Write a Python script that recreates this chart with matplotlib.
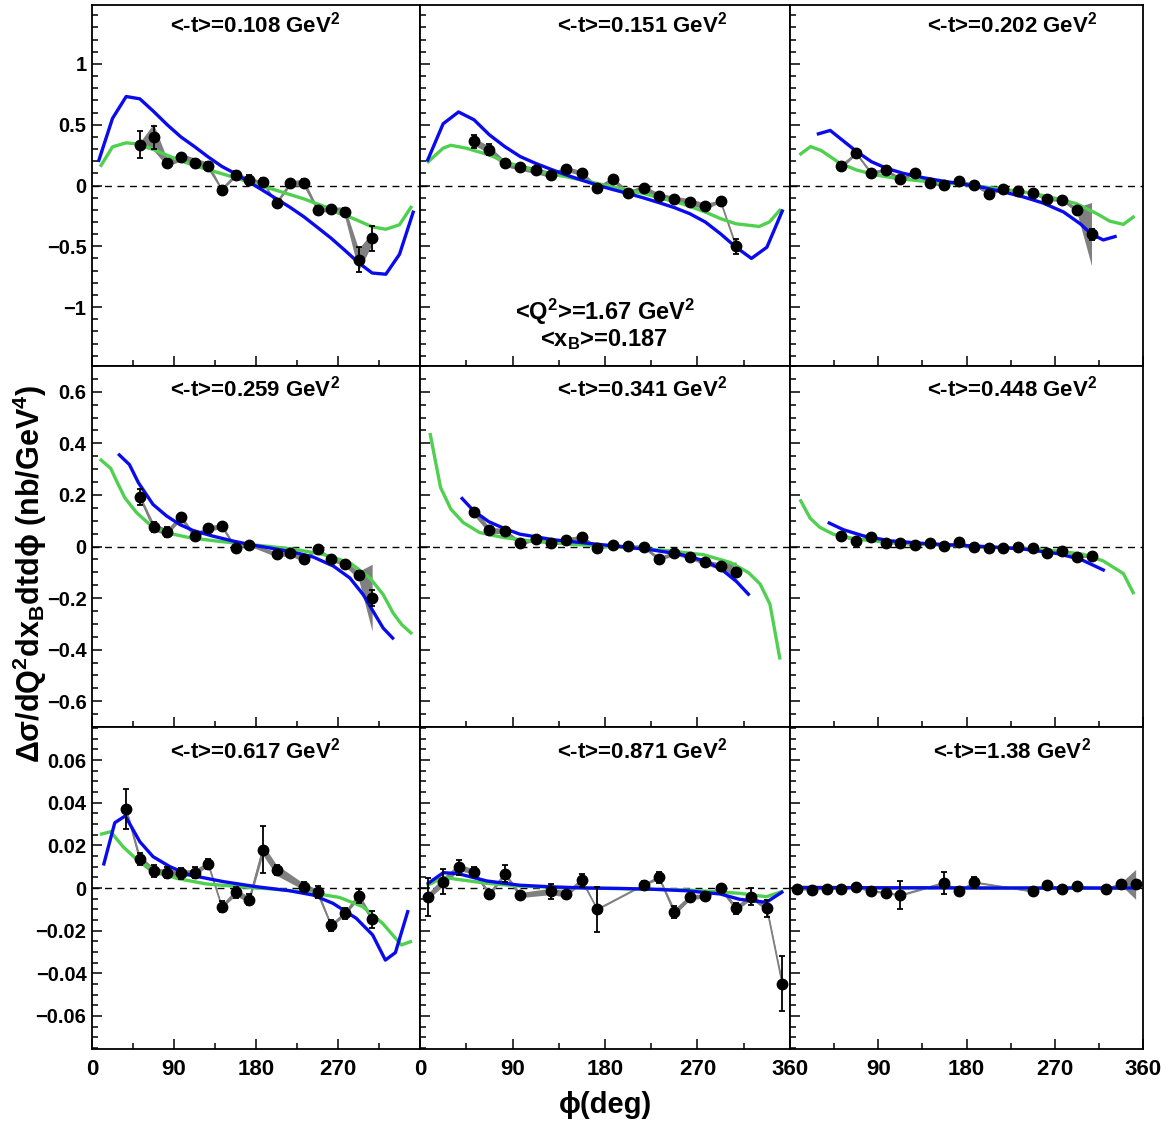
import matplotlib
matplotlib.use("Agg")
import matplotlib.pyplot as plt
from matplotlib.ticker import FixedLocator, MultipleLocator

plt.rcParams['font.family'] = ['Liberation Sans', 'DejaVu Sans']
plt.rcParams['font.weight'] = 'bold'
plt.rcParams['mathtext.default'] = 'regular'

# panel labels
t_labels = ['0.108', '0.151', '0.202', '0.259', '0.341', '0.448', '0.617', '0.871', '1.38']

# ---- data points: phi, value, stat error, systematic band half-width ----
phi_p1 = [52.5, 67.5, 82.5, 97.5, 112.5, 127.5, 142.5, 157.5, 172.5, 187.5, 202.5, 217.5, 232.5, 247.5, 262.5, 277.5, 292.5, 307.5]
y_p1 = [0.337, 0.398, 0.188, 0.232, 0.188, 0.16, -0.033, 0.088, 0.047, 0.028, -0.146, 0.019, 0.022, -0.199, -0.196, -0.218, -0.61, -0.436]
e_p1 = [0.11, 0.095, 0.03, 0.03, 0.03, 0.03, 0.03, 0.03, 0.04, 0.035, 0.02, 0.02, 0.03, 0.03, 0.03, 0.03, 0.1, 0.1]
s_p1 = [0.02, 0.11, 0.03, 0.03, 0.04, 0.03, 0.01, 0.02, 0.02, 0.01, 0.01, 0.02, 0.03, 0.02, 0.02, 0.04, 0.09, 0.05]

phi_p2 = [52.5, 67.5, 82.5, 97.5, 112.5, 127.5, 142.5, 157.5, 172.5, 187.5, 202.5, 217.5, 232.5, 247.5, 262.5, 277.5, 292.5, 307.5]
y_p2 = [0.362, 0.293, 0.182, 0.149, 0.124, 0.088, 0.135, 0.102, -0.019, 0.05, -0.061, -0.019, -0.088, -0.113, -0.133, -0.171, -0.13, -0.5]
e_p2 = [0.055, 0.045, 0.015, 0.015, 0.015, 0.015, 0.015, 0.015, 0.015, 0.015, 0.015, 0.015, 0.015, 0.015, 0.015, 0.015, 0.03, 0.06]
s_p2 = [0.03, 0.03, 0.025, 0.025, 0.025, 0.025, 0.02, 0.02, 0.015, 0.02, 0.02, 0.02, 0.025, 0.025, 0.025, 0.025, 0.01, 0.02]

phi_p3 = [52.5, 67.5, 82.5, 97.5, 112.5, 127.5, 142.5, 157.5, 172.5, 187.5, 202.5, 217.5, 232.5, 247.5, 262.5, 277.5, 292.5, 307.5]
y_p3 = [0.16, 0.265, 0.105, 0.127, 0.052, 0.1, 0.017, 0.003, 0.036, 0.008, -0.066, -0.03, -0.047, -0.061, -0.11, -0.116, -0.2, -0.4]
e_p3 = [0.035, 0.015, 0.012, 0.012, 0.012, 0.012, 0.012, 0.012, 0.012, 0.012, 0.012, 0.012, 0.012, 0.012, 0.012, 0.012, 0.015, 0.045]
s_p3 = [0.02, 0.01, 0.015, 0.015, 0.015, 0.01, 0.01, 0.01, 0.01, 0.01, 0.01, 0.01, 0.01, 0.01, 0.015, 0.015, 0.02, 0.26]

phi_p4 = [52.5, 67.5, 82.5, 97.5, 112.5, 127.5, 142.5, 157.5, 172.5, 202.5, 217.5, 232.5, 247.5, 262.5, 277.5, 292.5, 307.5]
y_p4 = [0.192, 0.076, 0.056, 0.114, 0.041, 0.07, 0.079, -0.004, 0.006, -0.03, -0.026, -0.049, -0.008, -0.049, -0.066, -0.111, -0.199]
e_p4 = [0.03, 0.02, 0.02, 0.012, 0.01, 0.01, 0.012, 0.01, 0.01, 0.01, 0.01, 0.01, 0.01, 0.01, 0.01, 0.015, 0.03]
s_p4 = [0.01, 0.015, 0.012, 0.01, 0.01, 0.01, 0.01, 0.004, 0.004, 0.01, 0.01, 0.01, 0.004, 0.008, 0.01, 0.015, 0.13]

phi_p5 = [52.5, 67.5, 82.5, 97.5, 112.5, 127.5, 142.5, 157.5, 172.5, 187.5, 202.5, 217.5, 232.5, 247.5, 262.5, 277.5, 292.5, 307.5]
y_p5 = [0.135, 0.063, 0.06, 0.013, 0.03, 0.014, 0.026, 0.036, -0.005, 0.005, 0.001, -0.001, -0.048, -0.026, -0.04, -0.062, -0.076, -0.1]
e_p5 = [0.015, 0.01, 0.01, 0.008, 0.008, 0.008, 0.008, 0.008, 0.008, 0.008, 0.008, 0.008, 0.008, 0.008, 0.008, 0.008, 0.01, 0.015]
s_p5 = [0.015, 0.012, 0.01, 0.008, 0.008, 0.008, 0.008, 0.008, 0.006, 0.006, 0.006, 0.006, 0.008, 0.008, 0.008, 0.01, 0.012, 0.04]

phi_p6 = [52.5, 67.5, 82.5, 97.5, 112.5, 127.5, 142.5, 157.5, 172.5, 187.5, 202.5, 217.5, 232.5, 247.5, 262.5, 277.5, 292.5, 307.5]
y_p6 = [0.039, 0.023, 0.038, 0.014, 0.012, 0.006, 0.012, 0.001, 0.016, -0.001, -0.005, -0.004, -0.001, -0.006, -0.026, -0.016, -0.039, -0.038]
e_p6 = [0.006, 0.005, 0.005, 0.004, 0.004, 0.004, 0.004, 0.004, 0.004, 0.004, 0.004, 0.004, 0.004, 0.004, 0.004, 0.004, 0.005, 0.006]
s_p6 = [0.003, 0.003, 0.003, 0.003, 0.003, 0.003, 0.003, 0.003, 0.003, 0.003, 0.003, 0.003, 0.003, 0.003, 0.003, 0.003, 0.003, 0.004]

phi_p7 = [37.5, 52.5, 67.5, 82.5, 97.5, 112.5, 127.5, 142.5, 157.5, 172.5, 187.5, 202.5, 232.5, 247.5, 262.5, 277.5, 292.5, 307.5]
y_p7 = [0.037, 0.0134, 0.008, 0.0072, 0.0069, 0.0072, 0.0113, -0.0087, -0.002, -0.0055, 0.018, 0.0084, 0.0006, -0.002, -0.0175, -0.0119, -0.0037, -0.0147]
e_p7 = [0.0095, 0.0028, 0.0028, 0.0025, 0.0025, 0.0025, 0.0025, 0.0025, 0.0025, 0.0025, 0.011, 0.0025, 0.0022, 0.0028, 0.0025, 0.0025, 0.0033, 0.004]
s_p7 = [0.001, 0.002, 0.0015, 0.0015, 0.0015, 0.0015, 0.001, 0.0008, 0.0015, 0.0015, 0.0025, 0.0025, 0.0015, 0.0015, 0.0008, 0.001, 0.0015, 0.0015]

phi_p8 = [7.5, 22.5, 37.5, 52.5, 67.5, 82.5, 97.5, 127.5, 142.5, 157.5, 172.5, 217.5, 232.5, 247.5, 262.5, 277.5, 292.5, 307.5, 322.5, 337.5, 352.5]
y_p8 = [-0.0041, 0.003, 0.0097, 0.0077, -0.0028, 0.0066, -0.0033, -0.0016, -0.0028, 0.0037, -0.01, 0.0014, 0.005, -0.0113, -0.0044, -0.0036, -0.0002, -0.0095, -0.0041, -0.0095, -0.045]
e_p8 = [0.009, 0.006, 0.0035, 0.002, 0.002, 0.004, 0.001, 0.0035, 0.001, 0.003, 0.0105, 0.002, 0.0025, 0.003, 0.001, 0.001, 0.001, 0.0025, 0.004, 0.004, 0.0129]
s_p8 = [0.0015, 0.002, 0.0015, 0.0012, 0.001, 0.001, 0.0012, 0.0015, 0.0015, 0.001, 0.0003, 0.0003, 0.001, 0.0015, 0.0012, 0.001, 0.001, 0.0012, 0.0012, 0.0012, 0.0015]

phi_p9 = [7.5, 22.5, 37.5, 52.5, 67.5, 82.5, 97.5, 112.5, 157.5, 172.5, 187.5, 247.5, 262.5, 277.5, 292.5, 322.5, 337.5, 352.5]
y_p9 = [-0.0005, -0.0008, -0.0003, -0.0005, 0.0003, -0.0014, -0.0022, -0.0034, 0.0025, -0.0016, 0.0027, -0.0016, 0.0013, -0.0003, 0.0008, -0.0005, 0.0019, 0.0017]
e_p9 = [0.0003, 0.0003, 0.0003, 0.0003, 0.0003, 0.0003, 0.0004, 0.0066, 0.0052, 0.0004, 0.0025, 0.0004, 0.0004, 0.0004, 0.0004, 0.0004, 0.0005, 0.0005]
s_p9 = [0.0003, 0.0003, 0.0003, 0.0003, 0.0003, 0.0004, 0.0004, 0.0004, 0.0004, 0.0004, 0.0004, 0.0003, 0.0003, 0.0003, 0.0003, 0.0004, 0.0006, 0.007]

# ---- model curves (blue, green) ----
bphi_p1 = [7.5, 22.5, 37.5, 52.5, 67.5, 82.5, 97.5, 112.5, 127.5, 142.5, 157.5, 172.5, 187.5, 202.5, 217.5, 232.5, 247.5, 262.5, 277.5, 292.5, 307.5, 322.5, 337.5, 352.5]
blue_p1 = [0.207, 0.552, 0.732, 0.713, 0.61, 0.50, 0.40, 0.32, 0.235, 0.157, 0.097, 0.028, -0.04, -0.11, -0.18, -0.257, -0.345, -0.434, -0.533, -0.635, -0.72, -0.73, -0.566, -0.22]
gphi_p1 = [10, 22.5, 37.5, 52.5, 67.5, 82.5, 97.5, 112.5, 127.5, 142.5, 157.5, 172.5, 187.5, 202.5, 217.5, 232.5, 247.5, 262.5, 277.5, 292.5, 307.5, 322.5, 337.5, 350]
green_p1 = [0.166, 0.318, 0.351, 0.34, 0.296, 0.249, 0.202, 0.166, 0.13, 0.097, 0.064, 0.028, -0.006, -0.04, -0.075, -0.11, -0.152, -0.193, -0.243, -0.29, -0.34, -0.36, -0.323, -0.18]

bphi_p2 = [7.5, 22.5, 37.5, 52.5, 67.5, 82.5, 97.5, 112.5, 127.5, 142.5, 157.5, 172.5, 187.5, 202.5, 217.5, 232.5, 247.5, 262.5, 277.5, 292.5, 307.5, 322.5, 337.5, 352.5]
blue_p2 = [0.21, 0.508, 0.605, 0.541, 0.417, 0.32, 0.238, 0.182, 0.133, 0.086, 0.044, 0.003, -0.033, -0.066, -0.102, -0.141, -0.182, -0.232, -0.30, -0.398, -0.508, -0.60, -0.508, -0.21]
gphi_p2 = [8, 22.5, 30, 45, 67.5, 82.5, 97.5, 112.5, 127.5, 142.5, 157.5, 172.5, 187.5, 202.5, 217.5, 232.5, 247.5, 262.5, 277.5, 292.5, 307.5, 330, 340, 350]
green_p2 = [0.196, 0.307, 0.331, 0.307, 0.251, 0.196, 0.155, 0.122, 0.094, 0.072, 0.044, 0.017, -0.011, -0.039, -0.066, -0.1, -0.13, -0.171, -0.218, -0.273, -0.315, -0.337, -0.3, -0.204]

bphi_p3 = [29, 41, 68, 83, 98.5, 115.5, 136, 156, 177, 197, 217.5, 238, 258, 279, 296, 307.5, 319.5, 331.5]
blue_p3 = [0.425, 0.453, 0.279, 0.196, 0.141, 0.1, 0.064, 0.036, 0.011, -0.017, -0.052, -0.094, -0.144, -0.218, -0.315, -0.4, -0.448, -0.42]
gphi_p3 = [11, 21, 32, 51, 68, 88, 109, 136, 163, 187, 211, 238, 265, 292, 313, 326, 340, 350]
green_p3 = [0.26, 0.32, 0.287, 0.182, 0.127, 0.086, 0.058, 0.036, 0.017, 0.0, -0.025, -0.052, -0.094, -0.149, -0.232, -0.293, -0.32, -0.26]

bphi_p4 = [30, 41, 51, 67, 82, 96.5, 111, 133, 155, 177, 199, 221, 243, 265, 283, 297.5, 308.5, 319.5, 330]
blue_p4 = [0.355, 0.318, 0.247, 0.163, 0.118, 0.085, 0.062, 0.04, 0.021, 0.005, -0.008, -0.022, -0.041, -0.076, -0.122, -0.186, -0.251, -0.316, -0.355]
gphi_p4 = [10, 20.5, 27, 36, 49, 63.5, 82, 107.5, 137, 166, 195, 224.5, 254, 283, 305, 319.5, 330.5, 340, 350]
green_p4 = [0.335, 0.303, 0.254, 0.189, 0.131, 0.085, 0.053, 0.034, 0.021, 0.01, 0.0, -0.012, -0.031, -0.063, -0.122, -0.186, -0.258, -0.303, -0.335]

bphi_p5 = [41, 52, 67, 82, 97, 130, 162, 194.5, 227, 253, 279, 295, 308, 319.5]
blue_p5 = [0.186, 0.139, 0.096, 0.07, 0.048, 0.026, 0.013, 0.0, -0.014, -0.03, -0.058, -0.094, -0.136, -0.185]
gphi_p5 = [10, 20, 30, 42, 58, 81, 113.5, 146, 178, 211, 243, 276, 302, 319.5, 331, 340.5, 350]
green_p5 = [0.434, 0.229, 0.145, 0.093, 0.054, 0.035, 0.019, 0.009, 0.001, -0.006, -0.017, -0.032, -0.062, -0.101, -0.146, -0.224, -0.432]

bphi_p6 = [40, 54.5, 75, 102, 136, 170, 204, 238, 272, 296, 319.5]
blue_p6 = [0.091, 0.065, 0.041, 0.022, 0.012, 0.005, -0.001, -0.01, -0.027, -0.049, -0.091]
gphi_p6 = [11, 20.5, 30.5, 44, 68, 102, 136, 170, 204, 238, 272, 299, 319.5, 340, 350]
green_p6 = [0.177, 0.11, 0.074, 0.048, 0.028, 0.016, 0.008, 0.003, -0.003, -0.008, -0.017, -0.03, -0.056, -0.105, -0.179]

bphi_p7 = [13, 25, 36.5, 52.5, 67, 85.5, 107, 144, 180.5, 217, 242.5, 264.5, 290, 308, 322, 333, 346.5]
blue_p7 = [0.0113, 0.0306, 0.0338, 0.0217, 0.0147, 0.01, 0.0061, 0.003, 0.0006, -0.0013, -0.0033, -0.0072, -0.0142, -0.022, -0.0338, -0.0303, -0.0111]
gphi_p7 = [10.5, 20.5, 34, 49, 67, 93, 125.5, 162, 198.5, 235, 271.5, 297, 319, 339.5, 349.5]
green_p7 = [0.0253, 0.0264, 0.0194, 0.0134, 0.0084, 0.0045, 0.0019, 0.0006, -0.0005, -0.0019, -0.0044, -0.0087, -0.0166, -0.0267, -0.0252]

bphi_p8 = [8, 22.7, 37.3, 65, 97, 130, 162, 194.6, 227, 259.5, 292, 311, 337, 352]
blue_p8 = [0.0022, 0.0072, 0.0067, 0.0033, 0.0013, 0.0005, 0.0, -0.0002, -0.0006, -0.0013, -0.0028, -0.0053, -0.0067, -0.002]
gphi_p8 = [8, 22.7, 37.3, 65, 97, 130, 162, 194.6, 227, 259.5, 292, 311, 337, 352]
green_p8 = [0.0014, 0.005, 0.004, 0.0022, 0.0009, 0.0003, 0.0, -0.0003, -0.0006, -0.0009, -0.0019, -0.0025, -0.0041, -0.0017]

bphi_p9 = [8, 50, 100, 150, 200, 250, 300, 353]
blue_p9 = [0.0002, 0.0002, 0.0001, 0.0001, 0.0, 0.0, 0.0, 0.0]
gphi_p9 = [10, 50, 100, 150, 200, 250, 300, 350]
green_p9 = [0.0003, 0.0002, 0.0001, 0.0001, 0.0, 0.0, -0.0001, -0.0001]

points = [(phi_p1, y_p1, e_p1, s_p1), (phi_p2, y_p2, e_p2, s_p2), (phi_p3, y_p3, e_p3, s_p3),
          (phi_p4, y_p4, e_p4, s_p4), (phi_p5, y_p5, e_p5, s_p5), (phi_p6, y_p6, e_p6, s_p6),
          (phi_p7, y_p7, e_p7, s_p7), (phi_p8, y_p8, e_p8, s_p8), (phi_p9, y_p9, e_p9, s_p9)]
blues = [(bphi_p1, blue_p1), (bphi_p2, blue_p2), (bphi_p3, blue_p3), (bphi_p4, blue_p4), (bphi_p5, blue_p5),
         (bphi_p6, blue_p6), (bphi_p7, blue_p7), (bphi_p8, blue_p8), (bphi_p9, blue_p9)]
greens = [(gphi_p1, green_p1), (gphi_p2, green_p2), (gphi_p3, green_p3), (gphi_p4, green_p4), (gphi_p5, green_p5),
          (gphi_p6, green_p6), (gphi_p7, green_p7), (gphi_p8, green_p8), (gphi_p9, green_p9)]

# row settings
row_lim = [1.485, 0.70, 0.0755]
row_major = [[-1, -0.5, 0, 0.5, 1], [-0.6, -0.4, -0.2, 0, 0.2, 0.4, 0.6], [-0.06, -0.04, -0.02, 0, 0.02, 0.04, 0.06]]
row_labels = [['\u22121', '\u22120.5', '0', '0.5', '1'],
              ['\u22120.6', '\u22120.4', '\u22120.2', '0', '0.2', '0.4', '0.6'],
              ['\u22120.06', '\u22120.04', '\u22120.02', '0', '0.02', '0.04', '0.06']]
row_minor = [0.1, 0.05, 0.005]
x_labels = [['0', '90', '180', '270', ''], ['0', '90', '180', '270', '360'], ['', '90', '180', '270', '360']]

W, H = 1172, 1124
cols = [(92, 420), (420, 790), (790, 1143)]
rows = [(5, 366), (366, 727), (727, 1049)]
title_x = [255, 642, 1012]
title_y = [32, 396, 758]

fig = plt.figure(figsize=(W / 100, H / 100), dpi=100)

for i in range(9):
    r, c = divmod(i, 3)
    x0, x1 = cols[c]
    y0, y1 = rows[r]
    ax = fig.add_axes([x0 / W, 1 - y1 / H, (x1 - x0) / W, (y1 - y0) / H])
    phi, y, e, s = points[i]
    lo = [a - b for a, b in zip(y, s)]
    hi = [a + b for a, b in zip(y, s)]
    ax.axhline(0, color='k', lw=1, ls=(0, (5, 4)), zorder=1)
    ax.fill_between(phi, lo, hi, color='#808080', lw=0, zorder=2)
    ax.plot(phi, y, color='#808080', lw=1.2, zorder=2)
    ax.plot(greens[i][0], greens[i][1], color='#4fd04f', lw=2.4, zorder=3)
    ax.plot(blues[i][0], blues[i][1], color='#0a0aee', lw=2.4, zorder=4)
    ax.errorbar(phi, y, yerr=e, fmt='o', color='k', ms=7.5, elinewidth=1.3, capsize=2.5, capthick=1.3, zorder=5)

    ax.set_xlim(0, 360)
    ax.set_ylim(-row_lim[r], row_lim[r])
    ax.xaxis.set_major_locator(FixedLocator([0, 90, 180, 270, 360]))
    ax.xaxis.set_minor_locator(MultipleLocator(45))
    ax.yaxis.set_major_locator(FixedLocator(row_major[r]))
    ax.yaxis.set_minor_locator(MultipleLocator(row_minor[r]))
    ax.tick_params(which='both', direction='in', top=False, right=False, width=1.1)
    ax.tick_params(which='major', length=7)
    ax.tick_params(which='minor', length=4)
    ax.tick_params(axis='y', pad=4, labelsize=14.5)
    ax.tick_params(axis='x', pad=7, labelsize=16)
    if c == 0:
        ax.set_yticklabels(row_labels[r], fontweight='bold')
    else:
        ax.set_yticklabels([])
    if r == 2:
        ax.set_xticklabels(x_labels[c], fontweight='bold')
    else:
        ax.set_xticklabels([])
    for sp in ax.spines.values():
        sp.set_linewidth(1.3)

    fig.text(title_x[c] / W, 1 - title_y[r] / H, '<-t>=' + t_labels[i] + ' GeV$^{2}$',
             ha='center', va='baseline', fontsize=16, fontweight='bold')

fig.text(605 / W, 1 - 320 / H, '<Q$^{2}$>=1.67 GeV$^{2}$', ha='center', va='baseline', fontsize=17, fontweight='bold')
fig.text(604 / W, 1 - 346 / H, '<x$_{B}$>=0.187', ha='center', va='baseline', fontsize=17, fontweight='bold')

fig.text(30 / W, 1 - 574 / H, '\u0394\u03c3/dQ$^{2}$dx$_{B}$dtd\u03d5 (nb/GeV$^{4}$)', rotation=90,
         ha='center', va='center', fontsize=22, fontweight='bold')
fig.text(605 / W, 1 - 1105 / H, '\u03d5(deg)', ha='center', va='center', fontsize=21, fontweight='bold')

fig.savefig('out.png', dpi=100)
